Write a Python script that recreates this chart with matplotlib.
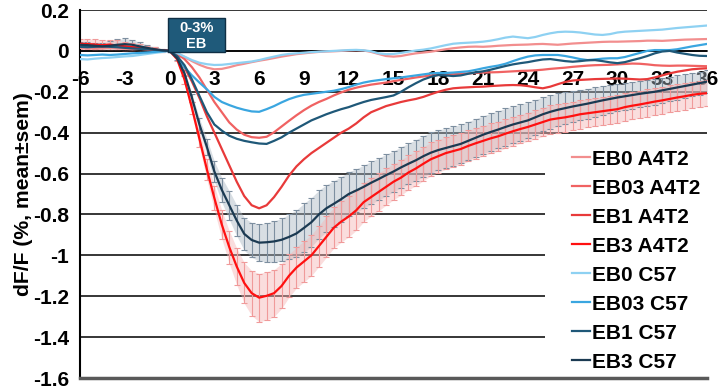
import matplotlib
matplotlib.use("Agg")
import matplotlib.pyplot as plt
from matplotlib.patches import Rectangle
import numpy as np

plt.rcParams['font.family'] = ['Liberation Sans', 'DejaVu Sans']
plt.rcParams['font.weight'] = 'bold'
plt.rcParams['axes.unicode_minus'] = False

# time in minutes, sampled every 0.5 min
t = np.arange(-6, 36.5, 0.5)

# rows: -6..-0.5 | 0..5.5 | 6..11.5 | 12..17.5 | 18..23.5 | 24..29.5 | 30..35.5 | 36
eb0_a4t2 = [0.015, 0.012, 0.010, 0.012, 0.015, 0.012, 0.010, 0.008, 0.010, 0.008, 0.005, 0.003,
            0.0, -0.012, -0.03, -0.05, -0.068, -0.082, -0.09, -0.088, -0.08, -0.07, -0.063, -0.055,
            -0.048, -0.042, -0.035, -0.028, -0.022, -0.016, -0.012, -0.008, -0.005, -0.003, -0.002, 0.0,
            0.002, 0.003, 0.002, -0.005, -0.015, -0.025, -0.028, -0.025, -0.018, -0.012, -0.008, -0.004,
            0.002, 0.008, 0.013, 0.017, 0.020, 0.021, 0.020, 0.022, 0.025, 0.027, 0.029, 0.030,
            0.031, 0.033, 0.034, 0.032, 0.030, 0.033, 0.036, 0.038, 0.040, 0.042, 0.044, 0.045,
            0.045, 0.046, 0.047, 0.048, 0.050, 0.050, 0.049, 0.051, 0.053, 0.055, 0.056, 0.057,
            0.058]

eb03_a4t2 = [0.02, 0.02, 0.018, 0.02, 0.022, 0.02, 0.016, 0.012, 0.01, 0.008, 0.005, 0.002,
             0.0, -0.015, -0.04, -0.08, -0.13, -0.19, -0.25, -0.30, -0.35, -0.385, -0.41, -0.422,
             -0.425, -0.42, -0.398, -0.37, -0.342, -0.315, -0.29, -0.268, -0.25, -0.235, -0.218, -0.203,
             -0.19, -0.18, -0.172, -0.165, -0.16, -0.155, -0.148, -0.142, -0.136, -0.13, -0.125, -0.12,
             -0.118, -0.116, -0.114, -0.112, -0.11, -0.108, -0.106, -0.105, -0.104, -0.102, -0.100, -0.098,
             -0.097, -0.095, -0.092, -0.088, -0.085, -0.082, -0.078, -0.075, -0.072, -0.070, -0.069, -0.068,
             -0.066, -0.064, -0.062, -0.063, -0.066, -0.07, -0.072, -0.073, -0.072, -0.072, -0.073, -0.074,
             -0.075]

eb1_a4t2 = [0.03, 0.032, 0.03, 0.028, 0.03, 0.026, 0.022, 0.018, 0.015, 0.01, 0.006, 0.002,
            0.0, -0.03, -0.08, -0.15, -0.23, -0.32, -0.40, -0.48, -0.56, -0.64, -0.71, -0.755,
            -0.77, -0.755, -0.715, -0.665, -0.61, -0.565, -0.53, -0.50, -0.475, -0.45, -0.425, -0.40,
            -0.38, -0.355, -0.325, -0.30, -0.285, -0.27, -0.26, -0.25, -0.242, -0.235, -0.225, -0.212,
            -0.20, -0.19, -0.183, -0.18, -0.178, -0.176, -0.175, -0.172, -0.17, -0.168, -0.167, -0.168,
            -0.172, -0.178, -0.183, -0.175, -0.163, -0.152, -0.145, -0.142, -0.14, -0.138, -0.137, -0.136,
            -0.135, -0.136, -0.138, -0.14, -0.138, -0.13, -0.12, -0.11, -0.102, -0.096, -0.09, -0.087,
            -0.085]

eb3_a4t2 = [0.035, 0.033, 0.03, 0.028, 0.03, 0.027, 0.022, 0.018, 0.014, 0.01, 0.006, 0.003,
            0.0, -0.04, -0.14, -0.28, -0.43, -0.58, -0.72, -0.85, -0.96, -1.055, -1.135, -1.185,
            -1.207, -1.198, -1.185, -1.15, -1.10, -1.06, -1.03, -1.0, -0.955, -0.91, -0.865, -0.835,
            -0.81, -0.78, -0.74, -0.715, -0.69, -0.665, -0.64, -0.62, -0.595, -0.575, -0.552, -0.53,
            -0.515, -0.50, -0.49, -0.48, -0.465, -0.452, -0.44, -0.428, -0.418, -0.405, -0.393, -0.382,
            -0.372, -0.36, -0.348, -0.336, -0.33, -0.325, -0.318, -0.31, -0.305, -0.30, -0.295, -0.29,
            -0.285, -0.275, -0.268, -0.262, -0.255, -0.248, -0.242, -0.235, -0.228, -0.222, -0.215, -0.21,
            -0.207]

eb3_a4t2_sem = [0.025, 0.026, 0.027, 0.026, 0.025, 0.024, 0.022, 0.02, 0.018, 0.015, 0.012, 0.008,
                0.005, 0.01, 0.02, 0.03, 0.04, 0.05, 0.06, 0.07, 0.08, 0.09, 0.1, 0.11,
                0.118, 0.118, 0.115, 0.11, 0.105, 0.1, 0.1, 0.1, 0.1, 0.1, 0.1, 0.1,
                0.1, 0.098, 0.096, 0.094, 0.092, 0.09, 0.088, 0.086, 0.085, 0.084, 0.083, 0.082,
                0.08, 0.079, 0.078, 0.077, 0.076, 0.075, 0.074, 0.073, 0.072, 0.071, 0.071, 0.07,
                0.07, 0.07, 0.07, 0.07, 0.07, 0.07, 0.07, 0.07, 0.069, 0.069, 0.069, 0.068,
                0.068, 0.068, 0.067, 0.067, 0.067, 0.066, 0.066, 0.066, 0.065, 0.065, 0.065, 0.065,
                0.065]

eb0_c57 = [-0.040, -0.042, -0.038, -0.035, -0.033, -0.030, -0.027, -0.025, -0.020, -0.015, -0.010, -0.005,
           0.0, -0.01, -0.028, -0.045, -0.058, -0.065, -0.069, -0.068, -0.064, -0.06, -0.056, -0.052,
           -0.045, -0.036, -0.028, -0.02, -0.015, -0.012, -0.009, -0.006, -0.004, -0.002, 0.0, 0.002,
           0.004, 0.005, 0.003, -0.002, -0.012, -0.016, -0.015, -0.01, -0.004, 0.002, 0.006, 0.012,
           0.02, 0.028, 0.035, 0.038, 0.04, 0.042, 0.045, 0.05, 0.057, 0.065, 0.07, 0.066,
           0.062, 0.068, 0.078, 0.086, 0.092, 0.094, 0.093, 0.09, 0.085, 0.08, 0.078, 0.082,
           0.09, 0.094, 0.096, 0.098, 0.1, 0.102, 0.104, 0.108, 0.112, 0.115, 0.118, 0.121,
           0.124]

eb03_c57 = [-0.02, -0.022, -0.02, -0.018, -0.02, -0.018, -0.015, -0.012, -0.01, -0.008, -0.005, -0.002,
            0.0, -0.03, -0.08, -0.12, -0.155, -0.188, -0.225, -0.25, -0.265, -0.278, -0.288, -0.296,
            -0.298, -0.285, -0.27, -0.252, -0.236, -0.224, -0.215, -0.21, -0.205, -0.2, -0.195, -0.187,
            -0.177, -0.165, -0.155, -0.148, -0.143, -0.138, -0.134, -0.13, -0.125, -0.12, -0.115, -0.11,
            -0.108, -0.108, -0.106, -0.103, -0.1, -0.093, -0.085, -0.078, -0.072, -0.063, -0.05, -0.038,
            -0.028, -0.022, -0.02, -0.02, -0.02, -0.025, -0.032, -0.04, -0.045, -0.042, -0.038, -0.036,
            -0.036, -0.03, -0.02, -0.01, 0.0, 0.004, 0.004, 0.004, 0.008, 0.015, 0.022, 0.028,
            0.034]

eb1_c57 = [0.02, 0.018, 0.02, 0.022, 0.02, 0.018, 0.015, 0.012, 0.01, 0.008, 0.005, 0.002,
           0.0, -0.025, -0.07, -0.14, -0.22, -0.30, -0.36, -0.39, -0.415, -0.43, -0.44, -0.447,
           -0.453, -0.455, -0.44, -0.423, -0.40, -0.38, -0.36, -0.34, -0.325, -0.31, -0.297, -0.285,
           -0.275, -0.262, -0.25, -0.24, -0.233, -0.226, -0.218, -0.2, -0.178, -0.158, -0.14, -0.127,
           -0.118, -0.12, -0.123, -0.12, -0.112, -0.105, -0.1, -0.092, -0.083, -0.074, -0.066, -0.06,
           -0.055, -0.048, -0.042, -0.04, -0.045, -0.05, -0.053, -0.05, -0.046, -0.045, -0.05, -0.056,
           -0.06, -0.055, -0.045, -0.036, -0.025, -0.012, -0.003, 0.0, -0.008, -0.014, -0.02, -0.024,
           -0.025]

eb3_c57 = [0.03, 0.028, 0.025, 0.022, 0.025, 0.03, 0.033, 0.03, 0.022, 0.015, 0.008, 0.003,
           0.0, -0.035, -0.11, -0.23, -0.36, -0.47, -0.59, -0.68, -0.755, -0.83, -0.895, -0.925,
           -0.938, -0.936, -0.932, -0.924, -0.91, -0.893, -0.866, -0.838, -0.80, -0.77, -0.748, -0.725,
           -0.70, -0.683, -0.665, -0.645, -0.627, -0.608, -0.59, -0.57, -0.552, -0.535, -0.515, -0.498,
           -0.485, -0.475, -0.465, -0.455, -0.44, -0.425, -0.41, -0.397, -0.385, -0.372, -0.36, -0.35,
           -0.34, -0.325, -0.31, -0.298, -0.288, -0.28, -0.272, -0.265, -0.258, -0.25, -0.242, -0.235,
           -0.228, -0.222, -0.216, -0.21, -0.205, -0.2, -0.193, -0.186, -0.179, -0.172, -0.165, -0.158,
           -0.15]

eb3_c57_sem = [0.015, 0.015, 0.016, 0.018, 0.022, 0.026, 0.028, 0.025, 0.02, 0.015, 0.01, 0.006,
               0.004, 0.01, 0.015, 0.02, 0.03, 0.04, 0.05, 0.06, 0.07, 0.075, 0.08, 0.085,
               0.09, 0.095, 0.1, 0.105, 0.11, 0.115, 0.12, 0.12, 0.118, 0.115, 0.112, 0.11,
               0.108, 0.106, 0.105, 0.104, 0.103, 0.102, 0.1, 0.1, 0.1, 0.1, 0.1, 0.1,
               0.098, 0.097, 0.096, 0.095, 0.094, 0.093, 0.092, 0.092, 0.091, 0.091, 0.09, 0.09,
               0.088, 0.086, 0.084, 0.082, 0.08, 0.078, 0.076, 0.075, 0.074, 0.073, 0.072, 0.07,
               0.068, 0.067, 0.066, 0.065, 0.064, 0.063, 0.062, 0.06, 0.059, 0.058, 0.057, 0.056,
               0.055]

labels = ['EB0 A4T2', 'EB03 A4T2', 'EB1 A4T2', 'EB3 A4T2',
          'EB0 C57', 'EB03 C57', 'EB1 C57', 'EB3 C57']
series = [eb0_a4t2, eb03_a4t2, eb1_a4t2, eb3_a4t2, eb0_c57, eb03_c57, eb1_c57, eb3_c57]
colors = ['#f28e8e', '#f06262', '#e83a3a', '#ff1010',
          '#8ed1f2', '#3aa6e0', '#1f5878', '#1b3a52']

fig = plt.figure(figsize=(7.2, 3.88), dpi=100)
ax = fig.add_axes([80 / 720, 1 - 378 / 388, 627 / 720, 368 / 388])

# sem bands (dense error bars in the original) for the two EB3 groups
m_c, s_c = np.array(eb3_c57), np.array(eb3_c57_sem)
m_a, s_a = np.array(eb3_a4t2), np.array(eb3_a4t2_sem)
ax.fill_between(t, m_c - s_c, m_c + s_c, color='#a9b6c2', alpha=0.45, lw=0, zorder=2)
ax.fill_between(t, m_a - s_a, m_a + s_a, color='#f6b4b4', alpha=0.45, lw=0, zorder=2)
ax.errorbar(t, eb3_c57, yerr=eb3_c57_sem, fmt='none', ecolor='#7d8fa0',
            elinewidth=0.8, capsize=2, capthick=0.8, zorder=2)
ax.errorbar(t, eb3_a4t2, yerr=eb3_a4t2_sem, fmt='none', ecolor='#f09a9a',
            elinewidth=0.8, capsize=2, capthick=0.8, zorder=2)

for y, lab, c in zip(series, labels, colors):
    ax.plot(t, y, color=c, lw=1.6, label=lab, zorder=3)

yticks = np.arange(-1.6, 0.21, 0.2)
for yv in yticks:
    ax.axhline(yv, color='black', lw=1.1, zorder=1)

ax.set_xlim(-6, 36)
ax.set_ylim(-1.6, 0.2)
ax.set_xticks(np.arange(-6, 37, 3))
ax.set_yticks(yticks)
ax.set_yticklabels(['-1.6', '-1.4', '-1.2', '-1', '-0.8', '-0.6', '-0.4', '-0.2', '0', '0.2'])
ax.spines['top'].set_visible(False)
ax.spines['right'].set_visible(False)
ax.spines['bottom'].set_position(('data', 0))
ax.spines['bottom'].set_linewidth(1.1)
ax.spines['left'].set_linewidth(1.5)
ax.tick_params(axis='x', length=0, pad=14, labelsize=15)
ax.tick_params(axis='y', length=0, pad=8, labelsize=15)
for lbl in ax.get_xticklabels() + ax.get_yticklabels():
    lbl.set_fontweight('bold')
ax.axhline(-1.6, color='#595959', lw=2.5, zorder=6, clip_on=False)

ax.set_ylabel('dF/F (%, mean\u00b1sem)', fontsize=15.2, fontweight='bold', labelpad=0)

# stimulus marker box
ax.add_patch(Rectangle((-0.1, -0.005), 3.8, 0.166, facecolor='#1f5a7a',
                       edgecolor='#0f2f45', lw=1, zorder=7, clip_on=False))
ax.text(1.8, 0.074, '0-3%\nEB', ha='center', va='center', color='white',
        fontsize=10.5, fontweight='bold', linespacing=1.15, zorder=8)

# white panel behind the legend hides the gridlines there
ax.add_patch(Rectangle((0.7416, 0.006), 0.2584, 0.614, transform=ax.transAxes,
                       facecolor='white', edgecolor='none', zorder=4))
leg = ax.legend(loc='lower right', bbox_to_anchor=(1.0, 0.0),
                prop={'size': 15, 'weight': 'bold'}, frameon=False,
                handlelength=0.9, handletextpad=0.1, labelspacing=0.48,
                borderaxespad=0.0, borderpad=0.3)
leg.set_zorder(5)

fig.savefig('out.png', dpi=100)
